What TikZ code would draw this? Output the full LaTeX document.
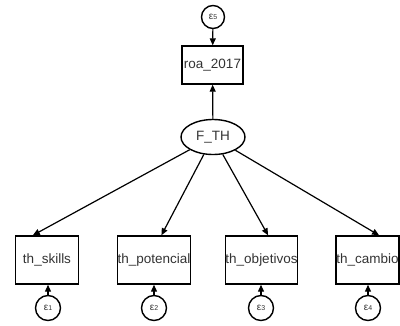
\documentclass[tikz,border=0pt]{standalone}
\usepackage{fontspec}
\setmainfont{Liberation Sans}
\usetikzlibrary{shapes.geometric,arrows.meta,calc}
\newcommand{\epsl}[1]{\fontsize{10}{10}\selectfont ε\raisebox{-0.5pt}{\fontsize{7}{7}\selectfont #1}}
\begin{document}
\begin{tikzpicture}[x=1pt,y=-1pt,
 obs/.style={draw,line width=1.4pt,minimum width=63pt,minimum height=48pt,inner sep=0pt,font=\fontsize{13.5}{14}\selectfont,text=black!80},
 err/.style={draw,circle,line width=1.4pt,minimum size=25pt,inner sep=0pt,text=black!80},
 lat/.style={draw,ellipse,line width=1.4pt,minimum width=64pt,minimum height=35pt,inner sep=0pt,font=\fontsize{13.5}{14}\selectfont,text=black!80},
 conn/.style={line width=1.2pt,-{Triangle[length=7pt,width=6pt]}}]
\useasboundingbox (0,0) rectangle (400,325);
\node[err,minimum size=23pt] (e5) at (213,17) {\epsl{5}};
\node[obs,minimum width=61pt,minimum height=38pt] (roa) at (212.5,65) {roa\_2017};
\node[lat] (F) at (213,137) {F\_TH};
\node[obs] (s1) at (47,260) {th\_skills};
\node[obs,minimum width=65pt] (s2) at (154,260) {th\_potencial};
\node[obs] (s3) at (261.5,260) {th\_objetivos};
\node[obs] (s4) at (367.5,260) {th\_cambio};
\node[err] (e1) at (48,308) {\epsl{1}};
\node[err] (e2) at (154,308) {\epsl{2}};
\node[err] (e3) at (261,308) {\epsl{3}};
\node[err] (e4) at (368,308) {\epsl{4}};
\coordinate (t1) at ($(s1.north west)!0.28!(s1.north east)$);
\coordinate (t2) at ($(s2.north west)!0.6!(s2.north east)$);
\coordinate (t3) at ($(s3.north west)!0.59!(s3.north east)$);
\coordinate (t4) at ($(s4.north west)!0.68!(s4.north east)$);
\draw[conn] (e5) -- (roa);
\draw[conn] (F) -- (roa);
\draw[conn] (F) -- (t1);
\draw[conn] (F) -- (t2);
\draw[conn] (F) -- (t3);
\draw[conn] (F) -- (t4);
\draw[conn] (e1) -- (e1 |- s1.south);
\draw[conn] (e2) -- (e2 |- s2.south);
\draw[conn] (e3) -- (e3 |- s3.south);
\draw[conn] (e4) -- (e4 |- s4.south);
\end{tikzpicture}
\end{document}
